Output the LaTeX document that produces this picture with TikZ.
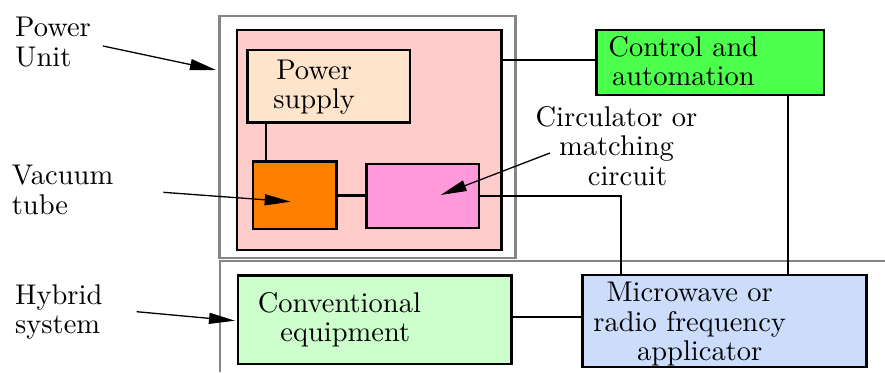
\documentclass[tikz,border=0pt]{standalone}
\usepackage{fontspec}
\setmainfont{lmroman10}[Extension=.otf, UprightFont=*-regular, BoldFont=*-bold, ItalicFont=*-italic, BoldItalicFont=*-bolditalic]
\usetikzlibrary{arrows.meta,calc}
\definecolor{pinkfill}{HTML}{FFCCCC}
\definecolor{psfill}{HTML}{FFE4CC}
\definecolor{tubefill}{HTML}{FF8000}
\definecolor{circfill}{HTML}{FF99DA}
\definecolor{ctrlfill}{HTML}{4DFF4D}
\definecolor{convfill}{HTML}{CCFFCC}
\definecolor{mwfill}{HTML}{CCDDFC}
\definecolor{frame}{HTML}{858585}
\begin{document}
\begin{tikzpicture}[x=1bp,y=-1bp,
  box/.style={draw=black, line width=2.8bp, inner sep=0pt},
  graybox/.style={draw=frame, line width=2.3bp, inner sep=0pt},
  grayline/.style={draw=frame, line width=2.3bp},
  wire/.style={draw=black, line width=2.3bp},
  txt/.style={font=\rmfamily\fontsize{28.5bp}{29.5bp}\selectfont, align=center, inner sep=0pt},
  side/.style={font=\rmfamily\fontsize{28.5bp}{29.5bp}\selectfont, align=left, inner sep=0pt, anchor=north west},
  ptr/.style={draw=black, line width=1.3bp, -{Triangle[length=26bp,width=11bp]}}]
\useasboundingbox (0,0) rectangle (885,372);
\fill[white] (0,0) rectangle (885,372);

% frames
\node[graybox, minimum width=296bp, minimum height=242.3bp] (pu) at (367.5,136.85) {};
\coordinate (hsB) at (220,372);
\coordinate (hsR) at (885,261);
\draw[grayline] (hsB) |- (hsR);

% boxes
\node[box, fill=pinkfill, minimum width=264.5bp, minimum height=220bp] (pink) at (369.25,140) {};
\node[box, fill=psfill, minimum width=162.7bp, minimum height=72.7bp,
  label={[txt, xshift=-14.5bp, yshift=-1bp]center:Power\\supply}] (ps) at (328.65,86.35) {};
\node[box, fill=tubefill, minimum width=83.7bp, minimum height=67.3bp] (ot) at (294.85,195.35) {};
\node[box, fill=circfill, minimum width=112.3bp, minimum height=64bp] (mg) at (422.85,196) {};
\node[box, fill=ctrlfill, minimum width=227.3bp, minimum height=65bp,
  label={[txt, xshift=-27bp, yshift=1.5bp]center:Control and\\automation}] (ctrl) at (710.35,62.5) {};
\node[box, fill=convfill, minimum width=273.7bp, minimum height=88.5bp,
  label={[txt, xshift=-35.5bp, yshift=0bp]center:Conventional\\\hspace*{12bp}equipment}] (conv) at (374.85,319.75) {};
\node[box, fill=mwfill, minimum width=284bp, minimum height=92bp,
  label={[txt, xshift=-35bp, yshift=-3.3bp]center:Microwave or\\radio frequency\\\hspace*{20bp}applicator}] (mw) at (724.7,321) {};

% connectors
\draw[wire] ([yshift=2.5bp]ctrl.west) -- ([yshift=2.5bp]ctrl.west -| pink.east);
\draw[wire] ([xshift=14.7bp]ot.north west) -- ([xshift=14.7bp]ot.north west |- ps.south);
\draw[wire] (ot.east) -- (ot.east -| mg.west);
\draw[wire] (mg.east) -| ([xshift=40bp]mw.north west);
\draw[wire] ([xshift=77.7bp]ctrl.south) -- ([xshift=77.7bp]ctrl.south |- mw.north);
\draw[wire] ([yshift=3bp]conv.east) -- ([yshift=3bp]conv.east -| mw.west);

% side labels
\node[side] (lpu) at (15,17) {Power\\Unit};
\node[side] (lvt) at (11.7,165) {Vacuum\\tube};
\node[side] (lhs) at (15,284.5) {Hybrid\\system};
\node[txt, anchor=north] (lci) at (616.5,106) {Circulator or\\matching\\\hspace*{22bp}circuit};

% pointers
\coordinate (puA) at (103,46);
\coordinate (puB) at (216,70);
\coordinate (vtA) at (163.3,192.3);
\coordinate (vtB) at (290.7,201.7);
\coordinate (hsA) at (136.7,311.7);
\coordinate (hsC) at (235,320.7);
\coordinate (ciA) at (550,153);
\coordinate (ciB) at (440.7,195);
\draw[ptr] (puA) -- (puB);
\draw[ptr] (vtA) -- (vtB);
\draw[ptr] (hsA) -- (hsC);
\draw[ptr] (ciA) -- (ciB);
\end{tikzpicture}
\end{document}
